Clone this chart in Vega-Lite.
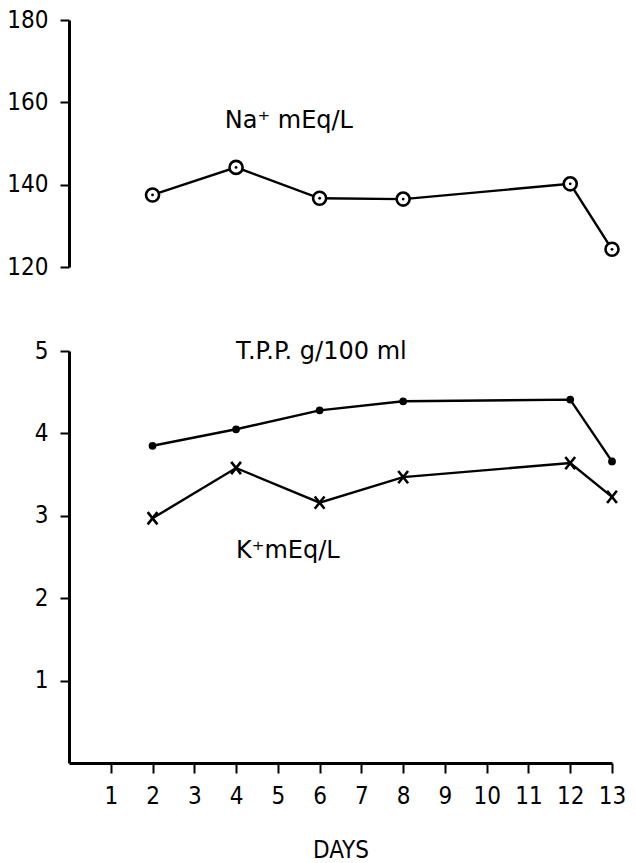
{
  "$schema": "https://vega.github.io/schema/vega-lite/v6.json",
  "background": "white",
  "padding": {"left": 6, "top": 8, "right": 10, "bottom": 5},
  "spacing": 60,
  "config": {
    "view": {"stroke": null},
    "font": "DejaVu Sans Condensed, Liberation Sans Narrow, sans-serif",
    "axis": {
      "grid": false,
      "domainColor": "black",
      "domainWidth": 3,
      "tickColor": "black",
      "tickWidth": 2,
      "tickSize": 9,
      "labelFont": "DejaVu Sans Condensed, Liberation Sans Narrow, sans-serif",
      "labelFontSize": 24,
      "labelColor": "black",
      "labelPadding": 12,
      "labelFlush": false,
      "titleFont": "DejaVu Sans Condensed, Liberation Sans Narrow, sans-serif",
      "titleFontSize": 24,
      "titleFontWeight": "normal",
      "titleColor": "black"
    }
  },
  "datasets": {
    "series": [
      {"series": "Na", "day": 2, "value": 137.5},
      {"series": "Na", "day": 4, "value": 144.2},
      {"series": "Na", "day": 6, "value": 136.7},
      {"series": "Na", "day": 8, "value": 136.5},
      {"series": "Na", "day": 12, "value": 140.2},
      {"series": "Na", "day": 13, "value": 124.3},
      {"series": "TPP", "day": 2, "value": 3.85},
      {"series": "TPP", "day": 4, "value": 4.05},
      {"series": "TPP", "day": 6, "value": 4.28},
      {"series": "TPP", "day": 8, "value": 4.39},
      {"series": "TPP", "day": 12, "value": 4.41},
      {"series": "TPP", "day": 13, "value": 3.66},
      {"series": "K", "day": 2, "value": 2.97},
      {"series": "K", "day": 4, "value": 3.58},
      {"series": "K", "day": 6, "value": 3.16},
      {"series": "K", "day": 8, "value": 3.47},
      {"series": "K", "day": 12, "value": 3.64},
      {"series": "K", "day": 13, "value": 3.23}
    ],
    "labels": [
      {"panel": "top", "label": "Na⁺ mEq/L", "day": 3.73, "value": 153.7},
      {"panel": "bottom", "label": "T.P.P. g/100 ml", "day": 4.0, "value": 4.9},
      {"panel": "bottom", "label": "K⁺mEq/L", "day": 4.0, "value": 2.49}
    ]
  },
  "vconcat": [
    {
      "width": 543,
      "height": 247,
      "encoding": {
        "x": {"field": "day", "type": "quantitative", "scale": {"domain": [0, 13]}, "axis": null},
        "y": {"field": "value", "type": "quantitative", "scale": {"domain": [120, 180]},
              "axis": {"values": [120, 140, 160, 180], "title": null}}
      },
      "layer": [
        {
          "data": {"name": "series"},
          "transform": [{"filter": "datum.series === 'Na'"}],
          "mark": {"type": "line", "color": "black", "strokeWidth": 2.4}
        },
        {
          "data": {"name": "series"},
          "transform": [{"filter": "datum.series === 'Na'"}],
          "mark": {"type": "point", "shape": "circle", "filled": true, "fill": "white", "stroke": "black", "strokeWidth": 2.6, "size": 170, "opacity": 1}
        },
        {
          "data": {"name": "series"},
          "transform": [{"filter": "datum.series === 'Na'"}],
          "mark": {"type": "point", "shape": "circle", "filled": true, "color": "black", "size": 8, "opacity": 1}
        },
        {
          "data": {"name": "labels"},
          "transform": [{"filter": "datum.panel === 'top'"}],
          "mark": {"type": "text", "align": "left", "baseline": "alphabetic", "font": "DejaVu Sans", "fontSize": 24, "color": "black"},
          "encoding": {"text": {"field": "label"}}
        }
      ]
    },
    {
      "width": 543,
      "height": 412,
      "encoding": {
        "x": {"field": "day", "type": "quantitative", "scale": {"domain": [0, 13]},
              "axis": {"values": [1,2,3,4,5,6,7,8,9,10,11,12,13], "title": "DAYS", "tickSize": 10, "labelPadding": 11, "titlePadding": 30}},
        "y": {"field": "value", "type": "quantitative", "scale": {"domain": [0, 5]},
              "axis": {"values": [1, 2, 3, 4, 5], "title": null}}
      },
      "layer": [
        {
          "data": {"name": "series"},
          "transform": [{"filter": "datum.series === 'TPP'"}],
          "mark": {"type": "line", "color": "black", "strokeWidth": 2.4}
        },
        {
          "data": {"name": "series"},
          "transform": [{"filter": "datum.series === 'TPP'"}],
          "mark": {"type": "point", "shape": "circle", "filled": true, "color": "black", "size": 60, "opacity": 1}
        },
        {
          "data": {"name": "series"},
          "transform": [{"filter": "datum.series === 'K'"}],
          "mark": {"type": "line", "color": "black", "strokeWidth": 2.4}
        },
        {
          "data": {"name": "series"},
          "transform": [{"filter": "datum.series === 'K'"}],
          "mark": {"type": "point", "shape": "M-0.8,-1L0.8,1M0.8,-1L-0.8,1", "filled": false, "stroke": "black", "strokeWidth": 2.6, "size": 150, "opacity": 1}
        },
        {
          "data": {"name": "labels"},
          "transform": [{"filter": "datum.panel === 'bottom'"}],
          "mark": {"type": "text", "align": "left", "baseline": "alphabetic", "font": "DejaVu Sans", "fontSize": 24, "color": "black"},
          "encoding": {"text": {"field": "label"}}
        }
      ]
    }
  ]
}
